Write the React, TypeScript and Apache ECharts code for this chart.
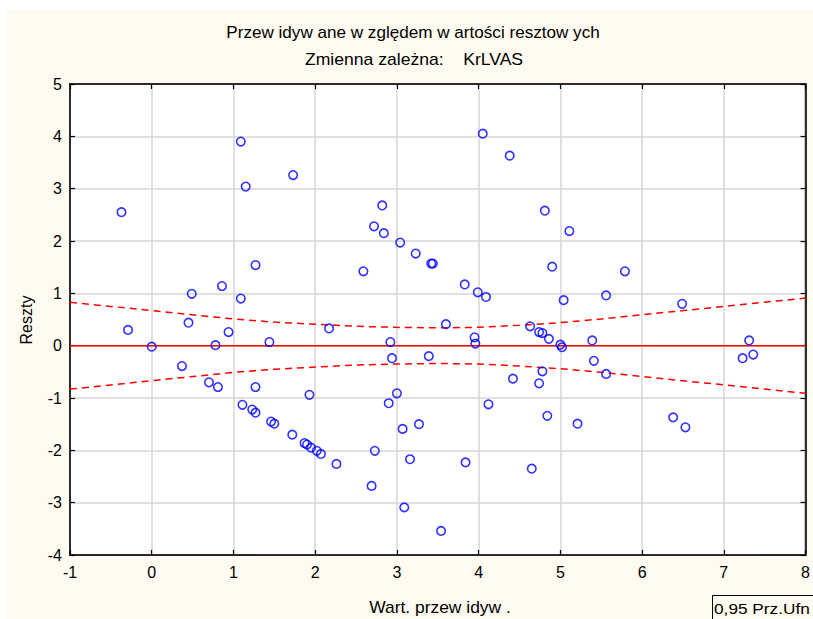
import React, { useEffect, useRef } from "react";
import * as echarts from "echarts";

const predicted = [
  -0.37, -0.29, 0.0, 0.37, 0.45, 0.49, 0.7, 0.78, 0.81, 0.86, 0.94, 1.09, 1.09, 1.11, 1.15, 1.23, 1.27, 1.27, 1.27,
  1.44, 1.46, 1.5, 1.72, 1.73, 1.87, 1.9, 1.93, 1.95, 2.02, 2.07, 2.17, 2.26, 2.59, 2.69, 2.72, 2.73, 2.82, 2.84,
  2.9, 2.92, 2.94, 3.0, 3.04, 3.07, 3.09, 3.16, 3.23, 3.27, 3.39, 3.42, 3.44, 3.54, 3.6, 3.83, 3.84, 3.95, 3.96,
  3.99, 4.05, 4.09, 4.12, 4.38, 4.42, 4.63, 4.65, 4.74, 4.74, 4.78, 4.78, 4.81, 4.84, 4.86, 4.9, 5.0, 5.02, 5.04,
  5.11, 5.21, 5.39, 5.41, 5.56, 5.56, 5.79, 6.38, 6.49, 6.53, 7.23, 7.31, 7.36,
];
const residuals = [
  2.55, 0.3, -0.02, -0.39, 0.44, 0.99, -0.7, 0.01, -0.79, 1.14, 0.26, 3.9, 0.9, -1.13, 3.04, -1.22, 1.54, -0.79,
  -1.28, 0.07, -1.45, -1.49, -1.7, 3.26, -1.86, -1.89, -0.94, -1.95, -2.01, -2.07, 0.33, -2.26, 1.42, -2.68, 2.28,
  -2.01, 2.68, 2.15, -1.1, 0.07, -0.24, -0.91, 1.97, -1.59, -3.09, -2.17, 1.76, -1.5, -0.2, 1.57, 1.57, -3.54, 0.41,
  1.17, -2.23, 0.16, 0.04, 1.02, 4.05, 0.93, -1.12, 3.63, -0.63, 0.37, -2.35, 0.26, -0.72, 0.24, -0.49, 2.58, -1.34,
  0.13, 1.51, 0.02, -0.03, 0.87, 2.19, -1.49, 0.1, -0.29, 0.96, -0.54, 1.42, -1.37, 0.8, -1.56, -0.24, 0.1, -0.17,
];

const fitX = [-1, 8];
const fitY = [0, 0];

const bandX = [-1, -0.5, 0, 0.5, 1, 1.5, 2, 2.5, 3, 3.5, 4, 4.5, 5, 5.5, 6, 6.5, 7, 7.5, 8];
const bandUpper = [0.83, 0.75, 0.67, 0.59, 0.51, 0.45, 0.41, 0.37, 0.35, 0.34, 0.35, 0.39, 0.44, 0.51, 0.59, 0.67, 0.75, 0.83, 0.91];
const bandLower = [-0.83, -0.75, -0.67, -0.59, -0.51, -0.45, -0.41, -0.37, -0.35, -0.34, -0.35, -0.39, -0.44, -0.51, -0.59, -0.67, -0.75, -0.83, -0.91];

const titleLine1 = "Przew idyw ane w zględem w artości resztow ych";
const titleLine2 = "Zmienna zależna:    KrLVAS";
const xName = "Wart. przew idyw .";
const yName = "Reszty";
const legendText = "0,95 Prz.Ufn";

const W = 813;
const H = 619;
const sans = "'Liberation Sans', Arial, sans-serif";

export default function App() {
  const ref = useRef<HTMLDivElement>(null);
  useEffect(() => {
    if (!ref.current) return;
    const chart = echarts.init(ref.current, undefined, { renderer: "svg" });
    const axisCommon = {
      type: "value" as const,
      interval: 1,
      axisLine: { show: true, onZero: false, lineStyle: { color: "#000", width: 1.5 } },
      axisTick: { show: true, inside: true, length: 5, lineStyle: { color: "#000", width: 1.2 } },
    };
    chart.setOption({
      animation: false,
      grid: {
        left: 70,
        top: 84,
        right: 2,
        bottom: 64,
        show: true,
        backgroundColor: "#ffffff",
        borderColor: "#000",
        borderWidth: 1.5,
      },
      xAxis: [
        {
          ...axisCommon,
          min: -1,
          max: 8,
          position: "bottom",
          axisLabel: { color: "#000", fontSize: 16, fontFamily: sans, margin: 9 },
          splitLine: { show: true, lineStyle: { color: "#d6d6d6", width: 1.5 } },
        },
        {
          ...axisCommon,
          min: -1,
          max: 8,
          position: "top",
          axisLabel: { show: false },
          splitLine: { show: false },
        },
      ],
      yAxis: [
        {
          ...axisCommon,
          min: -4,
          max: 5,
          position: "left",
          axisLabel: { color: "#000", fontSize: 16, fontFamily: sans, margin: 8 },
          splitLine: { show: true, lineStyle: { color: "#d6d6d6", width: 1.5 } },
        },
        {
          ...axisCommon,
          min: -4,
          max: 5,
          position: "right",
          axisLabel: { show: false },
          splitLine: { show: false },
        },
      ],
      series: [
        {
          type: "line",
          data: fitX.map((x, i) => [x, fitY[i]]),
          symbol: "none",
          lineStyle: { color: "#ff0000", width: 1.5 },
          z: 3,
        },
        {
          type: "line",
          data: bandX.map((x, i) => [x, bandUpper[i]]),
          symbol: "none",
          lineStyle: { color: "#ff0000", width: 1.5, type: [7, 5] },
          z: 3,
        },
        {
          type: "line",
          data: bandX.map((x, i) => [x, bandLower[i]]),
          symbol: "none",
          lineStyle: { color: "#ff0000", width: 1.5, type: [7, 5] },
          z: 3,
        },
        {
          type: "scatter",
          data: predicted.map((x, i) => [x, residuals[i]]),
          symbol: "circle",
          symbolSize: 8.5,
          itemStyle: { color: "rgba(0,0,0,0)", borderColor: "#0000ff", borderWidth: 1.6 },
          z: 4,
        },
      ],
      graphic: [
        {
          type: "text",
          x: 413,
          y: 33,
          scaleX: 1.07,
          style: { text: titleLine1, fill: "#000", font: `16px ${sans}`, align: "center", verticalAlign: "middle" },
        },
        {
          type: "text",
          x: 414,
          y: 60,
          scaleX: 1.1,
          style: { text: titleLine2, fill: "#000", font: `16px ${sans}`, align: "center", verticalAlign: "middle" },
        },
        {
          type: "text",
          x: 440,
          y: 608,
          scaleX: 1.09,
          style: { text: xName, fill: "#000", font: `16px ${sans}`, align: "center", verticalAlign: "middle" },
        },
        {
          type: "text",
          x: 26,
          y: 320,
          rotation: Math.PI / 2,
          style: { text: yName, fill: "#000", font: `16px ${sans}`, align: "center", verticalAlign: "middle" },
        },
        {
          type: "rect",
          shape: { x: 712.5, y: 595.5, width: 110, height: 30 },
          style: { fill: "none", stroke: "#000", lineWidth: 1 },
        },
        {
          type: "text",
          x: 714,
          y: 608,
          scaleX: 1.15,
          style: { text: legendText, fill: "#000", font: `15px ${sans}`, align: "left", verticalAlign: "middle" },
        },
      ],
    });
    return () => chart.dispose();
  }, []);
  return (
    <div style={{ position: "fixed", left: 0, top: 0, width: W, height: H, background: "#ffffff", overflow: "hidden" }}>
      <div style={{ position: "absolute", left: 6, top: 10, right: 0, bottom: 0, background: "#fffbf0" }} />
      <div ref={ref} style={{ position: "absolute", left: 0, top: 0, width: W, height: H }} />
    </div>
  );
}
